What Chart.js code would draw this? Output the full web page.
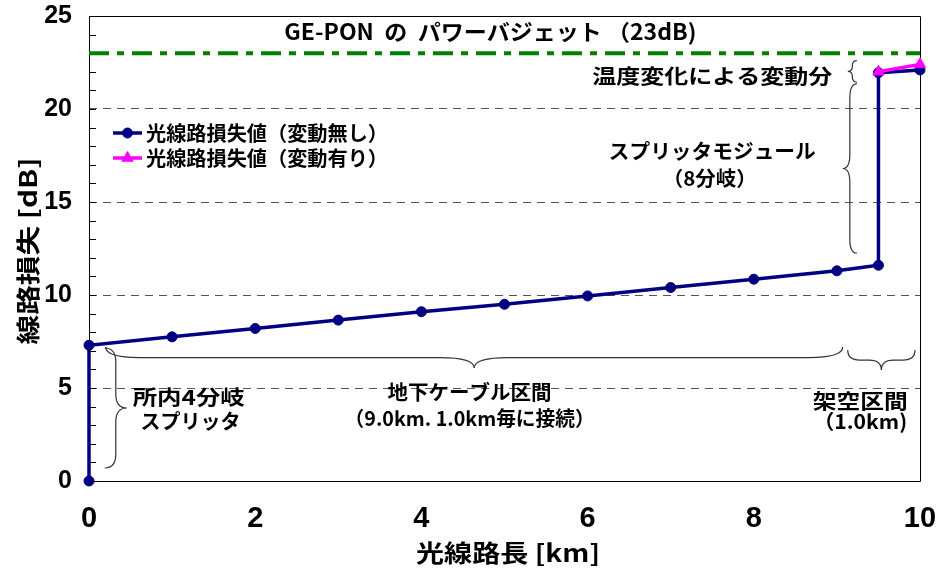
<!DOCTYPE html>
<html>
<head>
<meta charset="utf-8">
<script src="https://cdn.jsdelivr.net/npm/chart.js@4.4.0/dist/chart.umd.min.js"></script>
<style>
  html, body { margin: 0; padding: 0; background: #ffffff; }
  canvas { display: block; }
</style>
</head>
<body>
<canvas id="c" width="938" height="574"></canvas>
<script>
// 光線路長 [km] ごとの線路損失 [dB]
const distKm      = [0, 0, 1, 2, 3, 4, 5, 6, 7, 8, 9, 9.5, 9.5, 10];
const lossFixed   = [0, 7.3, 7.75, 8.2, 8.65, 9.1, 9.5, 9.95, 10.4, 10.85, 11.3, 11.6, 21.95, 22.1];
const distVar     = [9.5, 10];
const lossVar     = [22.0, 22.4];
const budgetKm    = [0, 10];
const budgetDb    = [23, 23];
const xTicks      = [0, 2, 4, 6, 8, 10];
const yTicks      = [0, 5, 10, 15, 20, 25];
const seriesNames = ['光線路損失値（変動無し）', '光線路損失値（変動有り）'];

const JP = '"Noto Sans CJK JP", "Noto Sans", sans-serif';
const NUM = '"Liberation Sans", Arial, sans-serif';
const NUM_NARROW = '"Liberation Sans Narrow", "Liberation Sans", Arial, sans-serif';

const toPts = (xs, ys) => xs.map((x, i) => ({ x: x, y: ys[i] }));

// 区間を示す中括弧（両端は軸の値で指定）
const braces = [
  { a: [0.19, 0.7],  b: [0.19, 7.15], h: 11, curl: 14 },   // 所内スプリッタ
  { a: [0.2, 7.2],   b: [9.07, 7.2],  h: 10.5, curl: 34 }, // 地下ケーブル区間
  { a: [9.13, 7.04], b: [9.94, 7.04], h: 10, curl: 12 },   // 架空区間
  { a: [9.24, 21.35], b: [9.24, 12.25], h: 7, curl: 14 },  // スプリッタモジュール
  { a: [9.24, 22.6], b: [9.24, 21.45], h: 4.5, curl: 5 }   // 温度変化
];

// 注記（中心位置は軸の値、幅は px）
const notes = [
  { t: 'GE-PON  の  パワーバジェット （23dB)', x: 4.83, y: 24.14, w: 412, size: 22 },
  { t: '温度変化による変動分', x: 7.50, y: 21.77, w: 240, size: 20 },
  { t: 'スプリッタモジュール', x: 7.50, y: 17.74, w: 207, size: 20 },
  { t: '（8分岐）', x: 7.47, y: 16.29, w: 94, size: 20 },
  { t: '所内4分岐', x: 1.20, y: 4.52, w: 112, size: 20 },
  { t: 'スプリッタ', x: 1.22, y: 3.23, w: 100, size: 20 },
  { t: '地下ケーブル区間', x: 4.58, y: 4.78, w: 164, size: 20 },
  { t: '（9.0km. 1.0km毎に接続）', x: 4.58, y: 3.39, w: 250, size: 20 },
  { t: '架空区間', x: 9.28, y: 4.30, w: 95, size: 20 },
  { t: '（1.0km)', x: 9.28, y: 3.23, w: 94, size: 20 }
];

function fitText(ctx, text, cx, cy, font, width, rot) {
  ctx.save();
  ctx.font = font;
  ctx.fillStyle = '#000';
  ctx.textAlign = 'center';
  ctx.textBaseline = 'middle';
  const m = ctx.measureText(text).width;
  const s = width ? width / m : 1;
  ctx.translate(cx, cy);
  if (rot) ctx.rotate(rot);
  ctx.scale(s, 1);
  ctx.fillText(text, 0, 0);
  ctx.restore();
}

function drawBrace(ctx, p1, p2, h, curl) {
  const dx = p2[0] - p1[0], dy = p2[1] - p1[1];
  const L = Math.hypot(dx, dy);
  const tx = dx / L, ty = dy / L;
  const nx = -ty, ny = tx;
  const P = (u, v) => [p1[0] + u * tx + v * nx, p1[1] + u * ty + v * ny];
  const a = Math.min(curl, L / 4);
  const m = L / 2;
  const segs = [
    ['M', P(0, 0)],
    ['Q', P(0, h), P(a, h)],
    ['L', P(m - a, h)],
    ['Q', P(m, h), P(m, 2 * h)],
    ['Q', P(m, h), P(m + a, h)],
    ['L', P(L - a, h)],
    ['Q', P(L, h), P(L, 0)]
  ];
  ctx.beginPath();
  segs.forEach(s => {
    if (s[0] === 'M') ctx.moveTo(s[1][0], s[1][1]);
    else if (s[0] === 'L') ctx.lineTo(s[1][0], s[1][1]);
    else ctx.quadraticCurveTo(s[1][0], s[1][1], s[2][0], s[2][1]);
  });
  ctx.stroke();
}

const framePlugin = {
  id: 'frame',
  beforeDatasetsDraw(chart) {
    const { ctx, chartArea: a, scales } = chart;
    ctx.save();
    // 副目盛（1 dB 毎）
    ctx.strokeStyle = '#000';
    ctx.lineWidth = 1;
    for (let v = 0; v <= 25; v++) {
      const y = Math.round(scales.y.getPixelForValue(v)) + 0.5;
      ctx.beginPath();
      ctx.moveTo(a.left, y);
      ctx.lineTo(a.left + 7, y);
      ctx.stroke();
    }
    // 枠
    ctx.beginPath();
    ctx.rect(Math.round(a.left) + 0.5, Math.round(a.top) + 0.5,
             Math.round(a.right - a.left), Math.round(a.bottom - a.top));
    ctx.stroke();
    ctx.restore();
  },
  afterDraw(chart) {
    const { ctx, scales } = chart;
    const X = v => scales.x.getPixelForValue(v);
    const Y = v => scales.y.getPixelForValue(v);

    // 中括弧
    ctx.save();
    ctx.strokeStyle = '#333';
    ctx.lineWidth = 1.2;
    braces.forEach(b => drawBrace(ctx, [X(b.a[0]), Y(b.a[1])], [X(b.b[0]), Y(b.b[1])], b.h, b.curl));
    ctx.restore();

    // 注記
    notes.forEach(n => fitText(ctx, n.t, X(n.x), Y(n.y), 'bold ' + n.size + 'px ' + JP, n.w));

    // 凡例
    const ds = chart.data.datasets;
    [0, 1].forEach(i => {
      const d = ds[i];
      const yy = 133 + i * 25;
      ctx.save();
      ctx.strokeStyle = d.borderColor;
      ctx.lineWidth = d.borderWidth;
      ctx.beginPath();
      ctx.moveTo(113, yy);
      ctx.lineTo(142, yy);
      ctx.stroke();
      ctx.fillStyle = d.backgroundColor;
      ctx.strokeStyle = d.borderColor;
      ctx.lineWidth = 1;
      Chart.helpers.drawPoint(ctx, { pointStyle: d.pointStyle, radius: d.pointRadius, rotation: 0, borderWidth: 1 }, 127.5, yy);
      ctx.restore();
      ctx.save();
      ctx.font = 'bold 20px ' + JP;
      ctx.fillStyle = '#000';
      ctx.textAlign = 'left';
      ctx.textBaseline = 'middle';
      const m = ctx.measureText(d.label).width;
      ctx.translate(146, yy);
      ctx.scale(242 / m, 1);
      ctx.fillText(d.label, 0, 0);
      ctx.restore();
    });

    // 軸タイトル
    fitText(ctx, '線路損失 [dB]', 28, 251, 'bold 24px ' + JP, 187, -Math.PI / 2);
    fitText(ctx, '光線路長 [km]', 508, 553, 'bold 24px ' + JP, 184);
  }
};

new Chart(document.getElementById('c'), {
  type: 'scatter',
  data: {
    datasets: [
      {
        label: seriesNames[0],
        data: toPts(distKm, lossFixed),
        showLine: true,
        borderColor: '#000080',
        backgroundColor: '#000080',
        borderWidth: 3.5,
        pointRadius: 5,
        pointBorderWidth: 1,
        pointStyle: 'circle',
        clip: false,
        order: 2
      },
      {
        label: seriesNames[1],
        data: toPts(distVar, lossVar),
        showLine: true,
        borderColor: '#FF00FF',
        backgroundColor: '#FF00FF',
        borderWidth: 3.5,
        pointRadius: 6.5,
        pointBorderWidth: 1,
        pointStyle: 'triangle',
        clip: false,
        order: 1
      },
      {
        label: 'パワーバジェット',
        data: toPts(budgetKm, budgetDb),
        showLine: true,
        borderColor: '#008000',
        borderWidth: 4,
        borderDash: [20, 8, 7, 8],
        pointRadius: 0,
        clip: false,
        order: 3
      }
    ]
  },
  options: {
    responsive: false,
    animation: false,
    events: [],
    layout: { padding: { top: 16, right: 18, left: 0, bottom: 0 } },
    plugins: { legend: { display: false }, tooltip: { enabled: false } },
    scales: {
      x: {
        type: 'linear',
        min: 0,
        max: 10,
        afterBuildTicks: s => { s.ticks = xTicks.map(v => ({ value: v })); },
        afterFit: s => { s.height = 93; },
        grid: { display: false, drawTicks: true, tickLength: 21, tickColor: 'rgba(0,0,0,0)' },
        border: { display: false },
        ticks: {
          color: '#000',
          padding: 0,
          font: { family: NUM_NARROW, size: 29, weight: 'bold' }
        }
      },
      y: {
        type: 'linear',
        min: 0,
        max: 25,
        afterBuildTicks: s => { s.ticks = yTicks.map(v => ({ value: v })); },
        afterFit: s => { s.width = 89; },
        grid: {
          drawTicks: true,
          tickLength: 17,
          tickColor: 'rgba(0,0,0,0)',
          color: c => (c.tick && c.tick.value > 0 && c.tick.value < 25) ? '#555' : 'rgba(0,0,0,0)',
          lineWidth: 1
        },
        border: { display: false, dash: [8, 6] },
        ticks: {
          color: '#000',
          padding: 0,
          font: { family: NUM, size: 25, weight: 'bold' }
        }
      }
    }
  },
  plugins: [framePlugin]
});
</script>
</body>
</html>
